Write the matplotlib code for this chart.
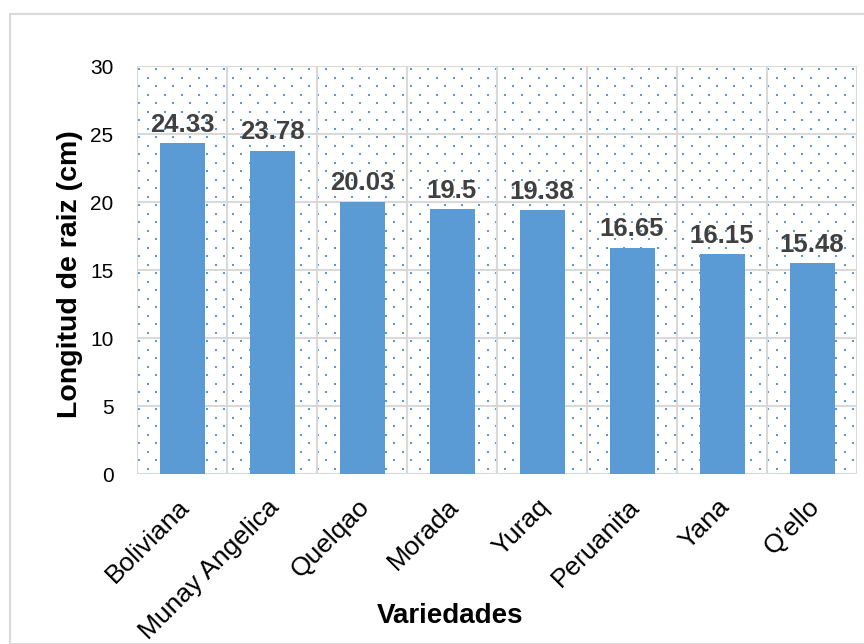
import matplotlib
matplotlib.use("Agg")
import matplotlib.pyplot as plt
import matplotlib.transforms as mtransforms
import numpy as np
from matplotlib.patches import Rectangle

categories = ["Boliviana", "Munay Angelica", "Quelqao", "Morada", "Yuraq",
              "Peruanita", "Yana", "Q\u2019ello"]
values = [24.33, 23.78, 20.03, 19.5, 19.38, 16.65, 16.15, 15.48]
labels = ["24.33", "23.78", "20.03", "19.5", "19.38", "16.65", "16.15", "15.48"]
yticks = [0, 5, 10, 15, 20, 25, 30]

plt.rcParams['font.family'] = ['Liberation Sans', 'DejaVu Sans']

W, H = 864, 644
fig = plt.figure(figsize=(W/100, H/100), dpi=100)
L, R, T, B = 137, 857, 66, 474
ax = fig.add_axes([L/W, 1-B/H, (R-L)/W, (B-T)/H])

# figure border
fig.patches.append(Rectangle((10/W, 0), 1.2, (H-14)/H, transform=fig.transFigure,
                             fill=False, edgecolor='#D9D9D9', linewidth=1.5))

# dotted background pattern
pw, ph = R-L, B-T
xs_big = np.arange(2, pw, 17.0)
ys_big = np.arange(3, ph, 17.0)
bx, by = np.meshgrid(xs_big, ys_big)
sx, sy = np.meshgrid(xs_big + 8.5, ys_big + 8.5)
sm = (sx < pw) & (sy < ph)
ax.scatter(bx.ravel()/pw, 1-by.ravel()/ph, s=2.8, color='#5B9BD5', marker='s',
           linewidths=0, transform=ax.transAxes, zorder=0.5)
ax.scatter(sx[sm]/pw, 1-sy[sm]/ph, s=1.0, color='#5B9BD5', marker='s',
           linewidths=0, transform=ax.transAxes, zorder=0.5)

x = np.arange(len(categories))
ax.bar(x, values, width=0.5, color='#5B9BD5', zorder=2)
for xi, v, lab in zip(x, values, labels):
    ax.annotate(lab, (xi, v), xytext=(0, 8), textcoords='offset points',
                ha='center', va='baseline', fontsize=18.5,
                fontweight='bold', color='#404040', zorder=3)

ax.set_xlim(-0.5, len(categories)-0.5)
ax.set_ylim(0, 30)
ax.set_yticks(yticks)
ax.set_yticklabels([str(t) for t in yticks], fontsize=15)
ax.set_xticks(x)
ax.set_xticklabels(categories, rotation=45, ha='right', rotation_mode='anchor',
                   fontsize=19)
ax.tick_params(axis='y', length=0, pad=17)
ax.tick_params(axis='x', length=0, pad=12)
off = mtransforms.ScaledTranslation(-5/100, -4/100, fig.dpi_scale_trans)
for lbl in ax.get_xticklabels():
    lbl.set_transform(lbl.get_transform() + off)

for t in yticks:
    ax.axhline(t, color='#D9D9D9', linewidth=1.5, zorder=1)
for b in np.arange(-0.5, len(categories), 1.0):
    ax.axvline(b, color='#D9D9D9', linewidth=1.5, zorder=1)
for s in ax.spines.values():
    s.set_visible(False)

fig.text(70/W, 1-274/H, "Longitud de raiz (cm)", rotation=90, ha='center',
         va='center', fontsize=20.5, fontweight='bold')
fig.text(450/W, 1-616/H, "Variedades", ha='center', va='center',
         fontsize=20, fontweight='bold')

fig.savefig("out.png", dpi=100)
